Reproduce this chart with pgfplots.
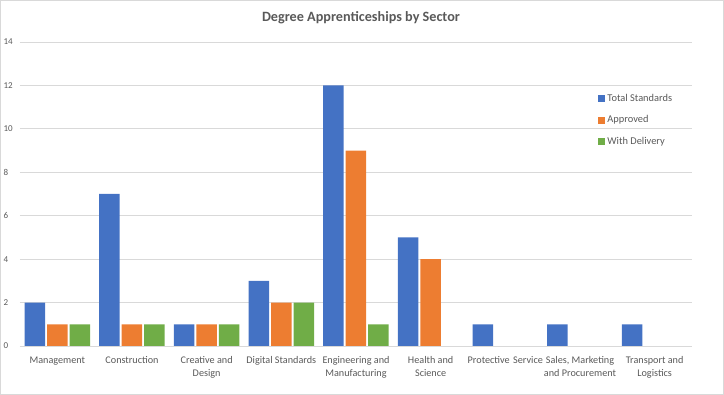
\documentclass[border=0pt]{standalone}
\usepackage{pgfplots}
\pgfplotsset{compat=1.18}
\usepackage{fontspec}
\setmainfont{Carlito}
\definecolor{cblue}{HTML}{4472C4}
\definecolor{corange}{HTML}{ED7D31}
\definecolor{cgreen}{HTML}{70AD47}
\definecolor{cgrid}{HTML}{D9D9D9}
\definecolor{ctext}{HTML}{595959}
\begin{document}
\begin{tikzpicture}[x=1pt,y=1pt]
\path[use as bounding box, draw=cgrid, line width=1pt] (0.5,0.5) rectangle (723.5,394.5);
\node[font=\fontsize{14.2}{16}\selectfont\bfseries, text=ctext] at (361,377) {Degree Apprenticeships by Sector};
\begin{axis}[
  at={(20pt,49pt)}, anchor=south west,
  scale only axis, width=672pt, height=304pt,
  ybar, bar width=20.5pt,
  xmin=-0.5, xmax=8.5, ymin=0, ymax=14,
  ytick={0,2,...,14},
  xtick={0,...,8},
  xticklabels={Management,Construction,{Creative and\\Design},Digital Standards,{Engineering and\\Manufacturing},{Health and\\Science},Protective\hspace{3.5pt}Service,{Sales, Marketing\\and Procurement},{Transport and\\Logistics}},
  xticklabel style={align=center, font=\fontsize{10.2}{12.5}\selectfont, text=ctext, yshift=-7pt},
  yticklabel style={font=\fontsize{9}{11}\selectfont, text=ctext, anchor=west, xshift=-20pt},
  /pgf/number format/assume math mode=true,
  major tick length=0pt,
  axis line style={draw=none},
  ymajorgrids, grid style={cgrid, line width=0.8pt},
  legend style={at={(0.856,0.841)}, anchor=north west, draw=none, fill=none,
    font=\fontsize{10.4}{12}\selectfont, text=ctext, row sep=8.5pt,
    /tikz/every even column/.append style={column sep=2pt}},
  legend cell align=left,
  legend image code/.code={\fill[#1] (0pt,-3.5pt) rectangle (7pt,3.5pt);},
]
\addplot[fill=cblue, draw=none] coordinates {(0,2) (1,7) (2,1) (3,3) (4,12) (5,5) (6,1) (7,1) (8,1)};
\addplot[fill=corange, draw=none] coordinates {(0,1) (1,1) (2,1) (3,2) (4,9) (5,4)};
\addplot[fill=cgreen, draw=none] coordinates {(0,1) (1,1) (2,1) (3,2) (4,1)};
\legend{Total Standards, Approved, With Delivery}
\end{axis}
\end{tikzpicture}
\end{document}
